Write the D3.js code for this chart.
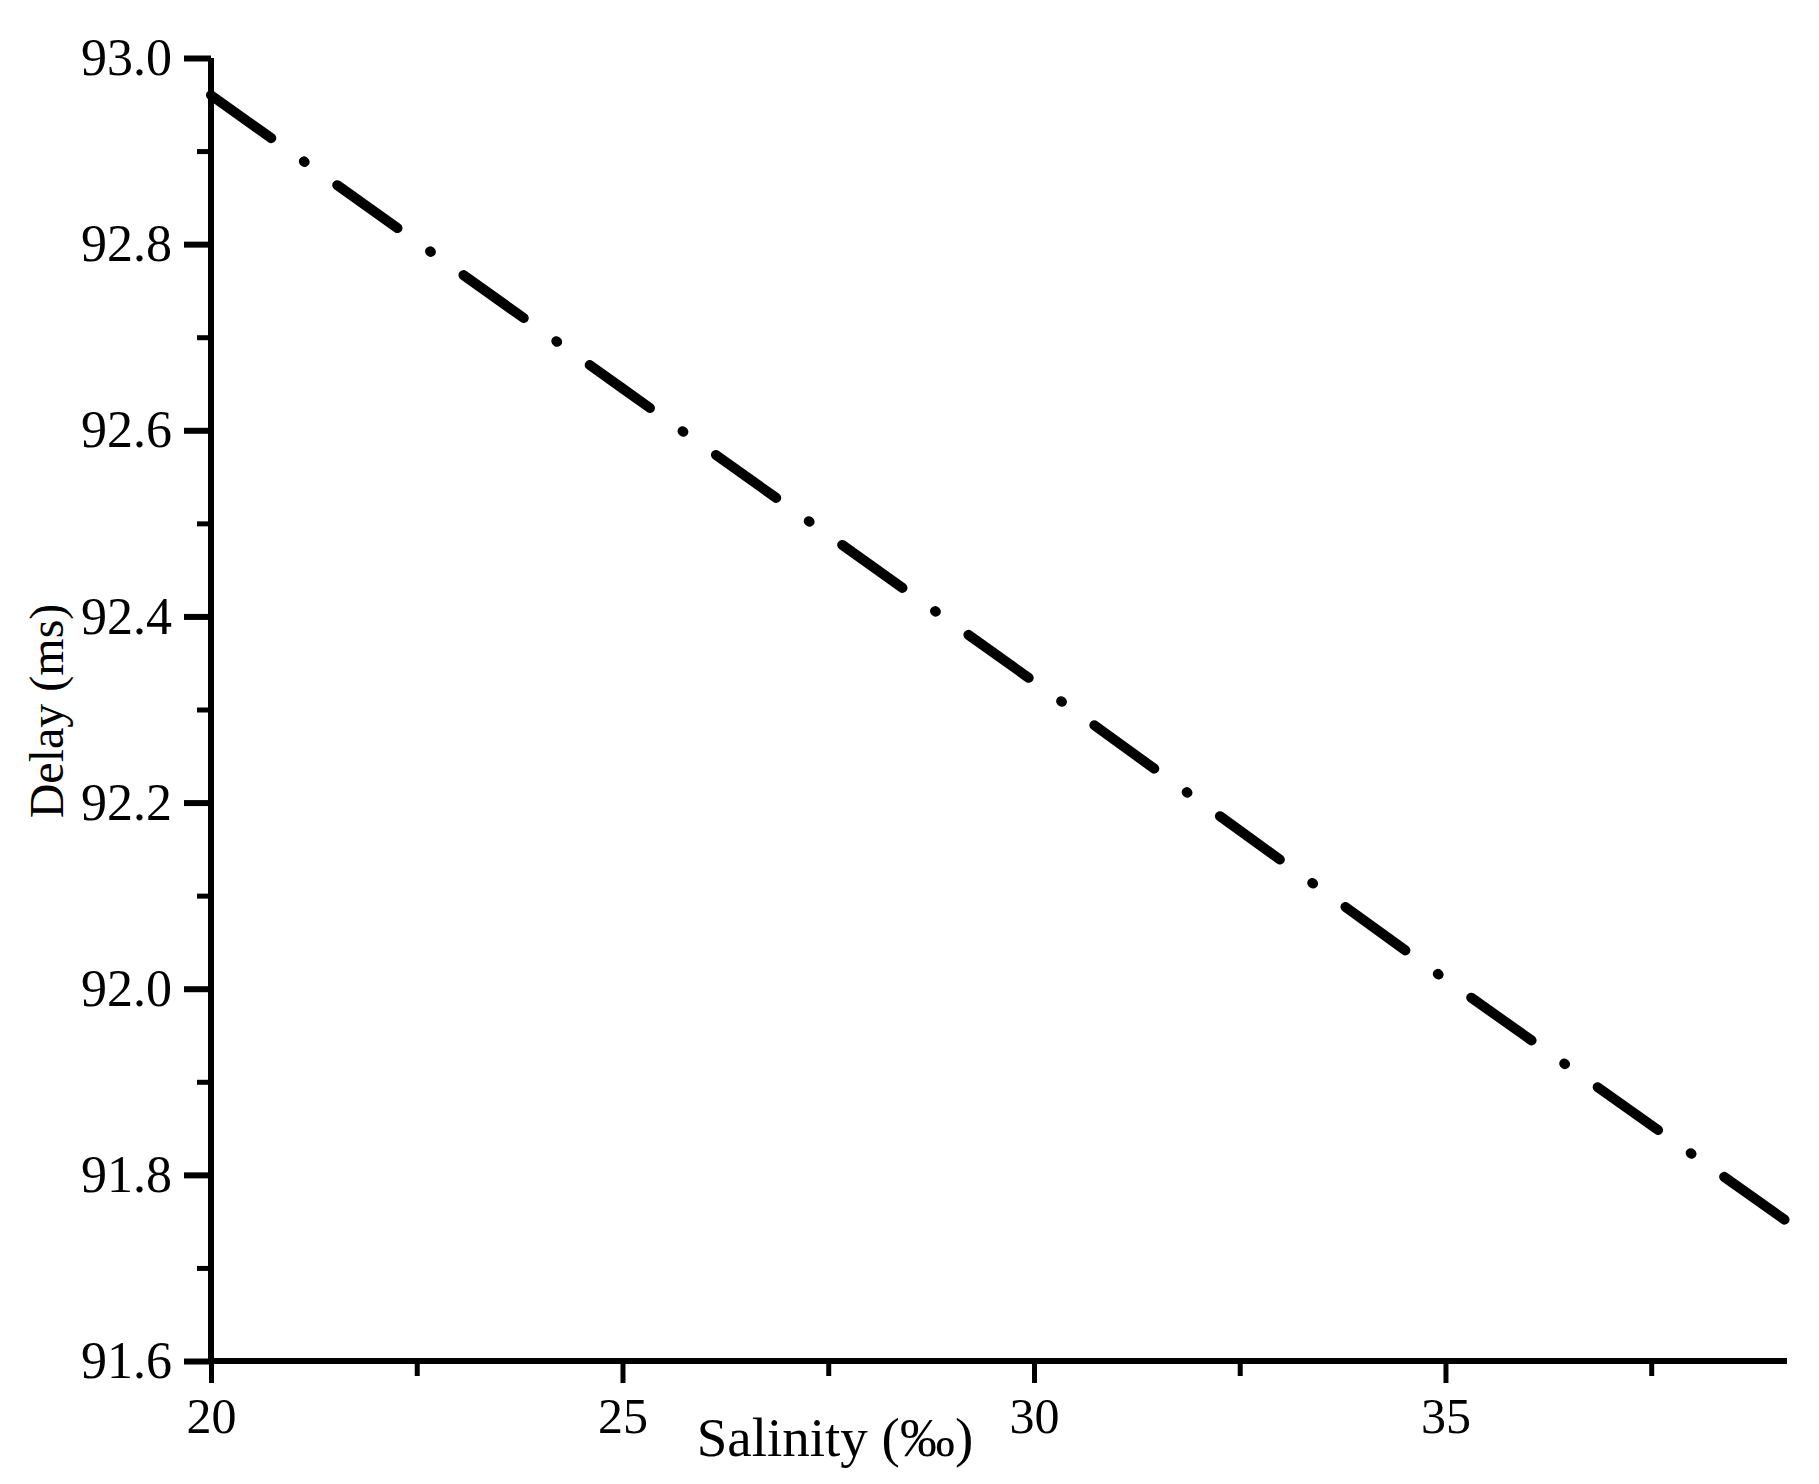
<!DOCTYPE html>
<html><head><meta charset="utf-8">
<script src="https://cdn.jsdelivr.net/npm/d3@7"></script>
<style>body{margin:0;background:#fff}</style></head>
<body><svg id="c" width="1819" height="1484"></svg>
<script>
const salinity = [20, 25, 30, 35, 39.15];
const delay = [92.96, 92.645, 92.33, 92.01, 91.75];
const xTicks = [20, 25, 30, 35];
const yTicks = [91.6, 91.8, 92.0, 92.2, 92.4, 92.6, 92.8, 93.0];

const svg = d3.select("#c");
const L = 211, R = 1787, T = 58, B = 1361;
const x = d3.scaleLinear().domain([20, 39.15]).range([L, R]);
const y = d3.scaleLinear().domain([91.6, 93.0]).range([B, T]);
const font = "'Liberation Serif', 'DejaVu Serif', serif";

// y axis
const ya = svg.append("g").attr("transform", `translate(${L},0)`)
  .call(d3.axisLeft(y).tickValues(yTicks).tickFormat(d3.format(".1f")).tickSize(27).tickPadding(12));
ya.select(".domain").attr("stroke-width", 6).attr("d", `M0,${T}V${B}`);
ya.selectAll(".tick line").attr("stroke-width", 6);
ya.selectAll(".tick text").attr("font-family", font).attr("font-size", 52).attr("fill", "#000");
svg.append("g").attr("transform", `translate(${L},0)`)
  .call(d3.axisLeft(y).tickValues(d3.range(0, 7).map(i => 91.7 + i * 0.2)).tickFormat("").tickSize(14))
  .call(g => { g.select(".domain").remove(); g.selectAll("line").attr("stroke-width", 5); });

// x axis
const xa = svg.append("g").attr("transform", `translate(0,${B})`)
  .call(d3.axisBottom(x).tickValues(xTicks).tickFormat(d3.format("d")).tickSize(22).tickPadding(14));
xa.select(".domain").attr("stroke-width", 6).attr("d", `M${L},0H${R}`);
xa.selectAll(".tick line").attr("stroke-width", 5);
xa.selectAll(".tick text").attr("font-family", font).attr("font-size", 50).attr("fill", "#000");
svg.append("g").attr("transform", `translate(0,${B})`)
  .call(d3.axisBottom(x).tickValues([22.5, 27.5, 32.5, 37.5]).tickFormat("").tickSize(15))
  .call(g => { g.select(".domain").remove(); g.selectAll("line").attr("stroke-width", 5); });

// line
svg.append("path").datum(salinity.map((s, i) => [s, delay[i]]))
  .attr("d", d3.line().x(d => x(d[0])).y(d => y(d[1])))
  .attr("fill", "none").attr("stroke", "#000").attr("stroke-width", 10)
  .attr("stroke-linecap", "round").attr("stroke-dasharray", "74,40,1,40");

// titles
svg.append("text").attr("x", 835).attr("y", 1456).attr("text-anchor", "middle")
  .attr("font-family", font).attr("font-size", 55).text("Salinity (‰)");
svg.append("text").attr("transform", "translate(63,711) rotate(-90)").attr("text-anchor", "middle")
  .attr("font-family", font).attr("font-size", 48).text("Delay (ms)");
</script></body></html>
